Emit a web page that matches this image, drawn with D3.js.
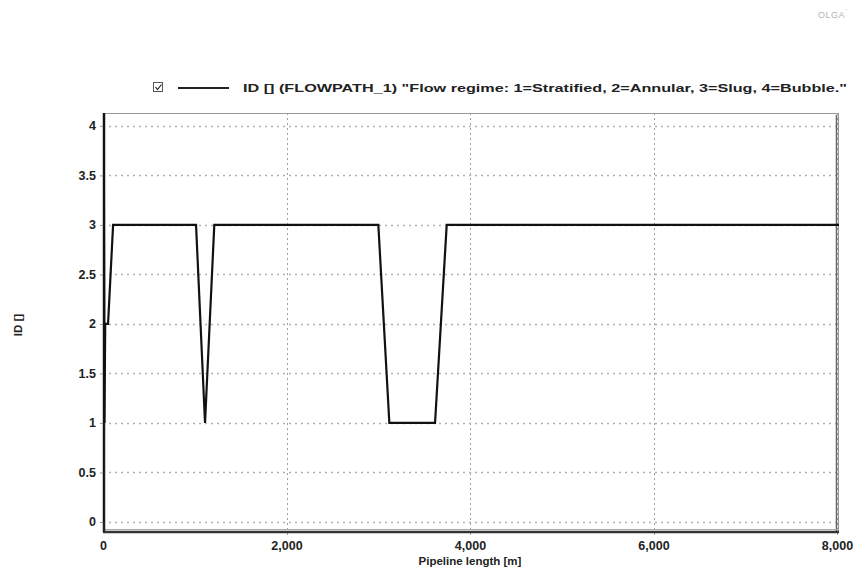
<!DOCTYPE html>
<html>
<head>
<meta charset="utf-8">
<script src="https://cdn.jsdelivr.net/npm/d3@7"></script>
<style>
  body { margin: 0; background: #fff; }
  svg { display: block; font-family: "Liberation Sans", Arial, sans-serif; }
</style>
</head>
<body>
<svg id="chart" width="855" height="573"></svg>
<script>
// Flow regime along the pipeline
const pipeLength = [0, 8, 16, 24, 55, 110, 1014, 1112, 1213, 3001, 3121, 3619, 3746, 8025];
const regimeId   = [0, 4.15, 1, 2, 2, 3, 3, 1, 3, 3, 1, 1, 3, 3];

const xTicks = [0, 2000, 4000, 6000, 8000];
const yTicks = [0, 0.5, 1, 1.5, 2, 2.5, 3, 3.5, 4];

const legendLabel = 'ID [] (FLOWPATH_1) "Flow regime: 1=Stratified, 2=Annular, 3=Slug, 4=Bubble."';
const xTitle = "Pipeline length [m]";
const yTitle = "ID []";

let margins = {top: 113, bottom: 41, left: 103, right: 16};
const width = 855, height = 573;
const plotW = width - margins.left - margins.right;
const plotH = height - margins.top - margins.bottom;

const xScale = d3.scaleLinear().domain([0, 8000]).range([0, 734]);
const yScale = d3.scaleLinear().domain([-0.101, 4.13]).range([plotH, 0]);

const svg = d3.select("#chart");

// OLGA mark
svg.append("text")
   .attr("x", 818).attr("y", 18)
   .style("font-size", "9px")
   .style("fill", "#b4b4b4")
   .style("letter-spacing", "0.5px")
   .text("OLGA");
svg.append("text")
   .attr("x", 846).attr("y", 13)
   .style("font-size", "6px")
   .style("fill", "#b4b4b4")
   .text("'");

// legend
const legend = svg.append("g").attr("transform", "translate(0,88)");
legend.append("rect")
      .attr("x", 153.5).attr("y", -5.5).attr("width", 9).attr("height", 9)
      .attr("fill", "#fff").attr("stroke", "#555").attr("stroke-width", 1);
legend.append("path")
      .attr("d", "M155.5,-1 l2,2.5 l4,-5")
      .attr("fill", "none").attr("stroke", "#222").attr("stroke-width", 1.2);
legend.append("line")
      .attr("x1", 178).attr("x2", 229).attr("y1", 0).attr("y2", 0)
      .attr("stroke", "#222").attr("stroke-width", 2);
legend.append("text")
      .attr("x", 243).attr("y", 4)
      .attr("textLength", 604).attr("lengthAdjust", "spacingAndGlyphs")
      .style("font-size", "11.5px").style("font-weight", "bold").style("fill", "#222")
      .text(legendLabel);

const chart = svg.append("g").attr("transform", `translate(${margins.left},${margins.top})`);

// grid
chart.append("g")
     .selectAll("line")
     .data(yTicks)
     .enter()
     .append("line")
     .attr("x1", 0).attr("x2", plotW)
     .attr("y1", d => Math.round(yScale(d)) + 0.5)
     .attr("y2", d => Math.round(yScale(d)) + 0.5)
     .attr("stroke", "#b0b0b0").attr("stroke-width", 1.5)
     .attr("stroke-dasharray", "2,4");

chart.append("g")
     .selectAll("line")
     .data(xTicks.slice(1))
     .enter()
     .append("line")
     .attr("x1", d => Math.round(xScale(d)) + 0.5)
     .attr("x2", d => Math.round(xScale(d)) + 0.5)
     .attr("y1", 0).attr("y2", plotH + 4)
     .attr("stroke", "#a0a0a0").attr("stroke-width", 1)
     .attr("stroke-dasharray", "2,3");

// frame
chart.append("rect")
     .attr("x", 0.5).attr("y", 0.5).attr("width", plotW - 1).attr("height", plotH)
     .attr("fill", "none").attr("stroke", "#999").attr("stroke-width", 1);
chart.append("line")
     .attr("x1", plotW - 2.5).attr("x2", plotW - 2.5).attr("y1", 2).attr("y2", plotH)
     .attr("stroke", "#666").attr("stroke-width", 1.5);
chart.append("line")
     .attr("x1", 0).attr("x2", plotW).attr("y1", plotH).attr("y2", plotH)
     .attr("stroke", "#333").attr("stroke-width", 2.5);
chart.append("line")
     .attr("x1", 0).attr("x2", plotW).attr("y1", plotH - 2.5).attr("y2", plotH - 2.5)
     .attr("stroke", "#aaa").attr("stroke-width", 1);
chart.append("line")
     .attr("x1", 1).attr("x2", 1).attr("y1", 0).attr("y2", plotH)
     .attr("stroke", "#222").attr("stroke-width", 2.5);

// y axis ticks + labels
const yAxis = chart.append("g")
     .call(d3.axisLeft(yScale).tickValues(yTicks).tickSize(3).tickFormat(d3.format("")))
yAxis.select(".domain").remove();
yAxis.selectAll("line").attr("stroke", "#999");
yAxis.selectAll("text")
     .attr("x", -7)
     .style("font-size", "12.5px").style("font-weight", "bold").style("fill", "#222")
     .style("font-family", "'Liberation Sans', Arial, sans-serif");

// x axis labels
const xAxis = chart.append("g")
     .attr("transform", `translate(0,${plotH})`)
     .call(d3.axisBottom(xScale).tickValues(xTicks).tickSize(0).tickFormat(d3.format(",")))
xAxis.select(".domain").remove();
xAxis.selectAll("text")
     .attr("y", 9)
     .style("font-size", "12.5px").style("font-weight", "bold").style("fill", "#222")
     .style("font-family", "'Liberation Sans', Arial, sans-serif");

// data line
const line = d3.line()
     .x((d, i) => xScale(pipeLength[i]))
     .y(d => yScale(d));

chart.append("clipPath").attr("id", "clip")
     .append("rect").attr("x", 0).attr("y", 0).attr("width", plotW).attr("height", plotH);

chart.append("path")
     .datum(regimeId)
     .attr("clip-path", "url(#clip)")
     .attr("d", line)
     .attr("fill", "none")
     .attr("stroke", "#111")
     .attr("stroke-width", 2.2)
     .attr("stroke-linejoin", "miter");

// titles
svg.append("text")
   .attr("x", 470).attr("y", 565)
   .attr("text-anchor", "middle")
   .style("font-size", "11.5px").style("font-weight", "bold").style("fill", "#222")
   .text(xTitle);

svg.append("text")
   .attr("transform", "translate(22,325) rotate(-90)")
   .attr("text-anchor", "middle")
   .style("font-size", "11.5px").style("font-weight", "bold").style("fill", "#222")
   .text(yTitle);
</script>
</body>
</html>
